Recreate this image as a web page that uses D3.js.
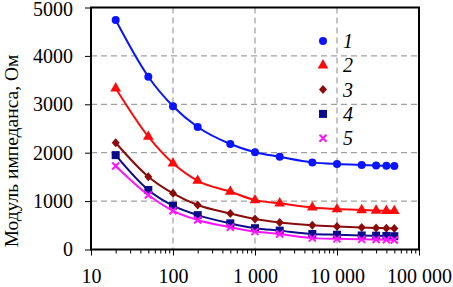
<!DOCTYPE html>
<html><head><meta charset="utf-8">
<script src="https://cdn.jsdelivr.net/npm/d3@7"></script>
<style>body{margin:0;background:#fff}svg{display:block}text{font-family:"Liberation Serif","Times New Roman",Times,serif}</style>
</head><body>
<svg id="c" width="453" height="287"></svg>
<script>
const freqs = [20, 50, 100, 200, 500, 1000, 2000, 5000, 10000, 20000, 30000, 40000, 50000];
const s1 = [4740, 3570, 2960, 2530, 2180, 2010, 1915, 1800, 1765, 1745, 1735, 1730, 1725];
const s2 = [3330, 2330, 1780, 1420, 1195, 1020, 955, 870, 835, 815, 805, 800, 795];
const s3 = [2205, 1505, 1160, 920, 745, 630, 560, 500, 475, 455, 445, 440, 435];
const s4 = [1950, 1230, 905, 710, 540, 440, 390, 320, 305, 290, 285, 280, 275];
const s5 = [1725, 1125, 800, 610, 460, 370, 320, 235, 220, 210, 205, 200, 195];
const seriesNames = ["1", "2", "3", "4", "5"];
const xTicks = [10, 100, 1000, 10000, 100000];
const xTickLabels = ["10", "100", "1 000", "10 000", "100 000"];
const yTicks = [0, 1000, 2000, 3000, 4000, 5000];
const yLabel = "Модуль импеданса, Ом";

const series = [
  {name: seriesNames[0], values: s1, color: "#0a14ff", marker: "circle"},
  {name: seriesNames[1], values: s2, color: "#ff0a0a", marker: "triangle"},
  {name: seriesNames[2], values: s3, color: "#8b0a0a", marker: "diamond"},
  {name: seriesNames[3], values: s4, color: "#0a0a8b", marker: "square"},
  {name: seriesNames[4], values: s5, color: "#ff14ff", marker: "cross"}
];

const svg = d3.select("#c");
const m = {left: 91, right: 419, top: 7.5, bottom: 249.5};
const x = d3.scaleLog().domain([10, 100000]).range([m.left, m.right]);
const y = d3.scaleLinear().domain([0, 5000]).range([m.bottom, m.top]);
const font = '"Liberation Serif","Times New Roman",Times,serif';

// grid
const g = svg.append("g");
g.selectAll(".gx").data(xTicks.slice(1, -1)).enter().append("line")
  .attr("x1", d => x(d)).attr("x2", d => x(d)).attr("y1", m.top).attr("y2", m.bottom)
  .attr("stroke", "#8a8a8a").attr("stroke-width", 1).attr("stroke-dasharray", "6,4");
g.selectAll(".gy").data(yTicks.slice(1, -1)).enter().append("line")
  .attr("x1", m.left).attr("x2", m.right).attr("y1", d => y(d)).attr("y2", d => y(d))
  .attr("stroke", "#8a8a8a").attr("stroke-width", 1).attr("stroke-dasharray", "6,4");

// axes
const xAxis = d3.axisBottom(x).tickValues(xTicks).tickFormat((d, i) => xTickLabels[i]).tickSize(6).tickPadding(13);
const minor = [];
for (let e = 1; e < 5; e++) for (let k = 2; k <= 9; k++) minor.push(k * Math.pow(10, e));
const xMinor = d3.axisBottom(x).tickValues(minor).tickFormat("").tickSize(4);
const ax = svg.append("g").attr("transform", `translate(0,${m.bottom})`).call(xAxis);
const axm = svg.append("g").attr("transform", `translate(0,${m.bottom})`).call(xMinor);
const yAxis = d3.axisLeft(y).tickValues(yTicks).tickSize(6).tickPadding(12).tickFormat(d3.format("d"));
const ay = svg.append("g").attr("transform", `translate(${m.left},0)`).call(yAxis);
[ax, axm, ay].forEach(a => {
  a.attr("font-family", null);
  a.select(".domain").remove();
  a.selectAll("line").attr("stroke", "#000").attr("stroke-width", 1);
  a.selectAll("text").style("font-family", font).attr("font-size", 20).attr("fill", "#000");
});
ay.selectAll(".tick text").filter(d => d === 5000).attr("dy", "0.42em");
// frame
svg.append("rect").attr("x", m.left).attr("y", m.top).attr("width", m.right - m.left).attr("height", m.bottom - m.top)
  .attr("fill", "none").attr("stroke", "#000").attr("stroke-width", 2);

// y label
svg.append("text").attr("transform", `translate(18,151) rotate(-90)`)
  .attr("text-anchor", "middle").style("font-family", font).attr("font-size", 19.5).text(yLabel);

// lines
const line = d3.line().x(d => x(d[0])).y(d => y(d[1])).curve(d3.curveMonotoneX);
function drawMarker(sel, type, color) {
  if (type === "circle") sel.append("circle").attr("r", 4).attr("fill", color);
  else if (type === "triangle") sel.append("path").attr("d", d3.symbol(d3.symbolTriangle, 50)()).attr("fill", color);
  else if (type === "diamond") sel.append("path").attr("d", "M0,-4.5L4,0L0,4.5L-4,0Z").attr("fill", color);
  else if (type === "square") sel.append("rect").attr("x", -4).attr("y", -4).attr("width", 8).attr("height", 8).attr("fill", color);
  else if (type === "cross") sel.append("path").attr("d", "M-3.5,-3.5L3.5,3.5M-3.5,3.5L3.5,-3.5").attr("stroke", color).attr("stroke-width", 2).attr("fill", "none");
}
series.forEach(s => {
  const pts = freqs.map((f, i) => [f, s.values[i]]);
  svg.append("path").datum(pts).attr("d", line).attr("fill", "none").attr("stroke", s.color).attr("stroke-width", 2);
  pts.forEach(p => {
    const gg = svg.append("g").attr("transform", `translate(${x(p[0])},${y(p[1])})`);
    drawMarker(gg, s.marker, s.color);
  });
});

// legend
series.forEach((s, i) => {
  const ly = 41 + i * 24.3;
  const gg = svg.append("g").attr("transform", `translate(323,${ly})`);
  drawMarker(gg, s.marker, s.color);
  svg.append("text").attr("x", 343).attr("y", ly + 7).style("font-family", font).attr("font-style", "italic")
    .attr("font-size", 20).text(s.name);
});
</script>
</body></html>
